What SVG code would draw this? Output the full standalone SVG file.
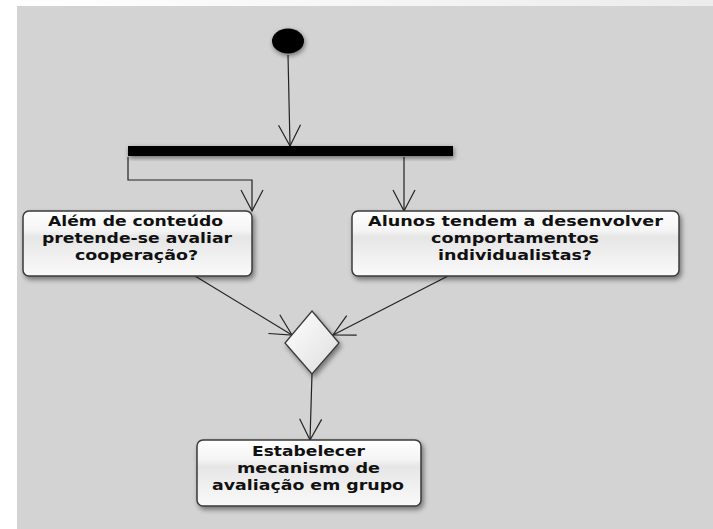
<svg xmlns="http://www.w3.org/2000/svg" width="713" height="529" viewBox="0 0 713 529">
<defs>
<linearGradient id="top" x1="0" y1="0" x2="1" y2="0"><stop offset="0" stop-color="#ffffff"/><stop offset="1" stop-color="#ececec"/></linearGradient>
<linearGradient id="box" x1="0" y1="0" x2="0" y2="1"><stop offset="0" stop-color="#ffffff"/><stop offset="0.3" stop-color="#f4f4f4"/><stop offset="0.4" stop-color="#e6e6e6"/><stop offset="1" stop-color="#fafafa"/></linearGradient>
<linearGradient id="dia" x1="0" y1="0" x2="1" y2="1"><stop offset="0" stop-color="#ffffff"/><stop offset="1" stop-color="#dedede"/></linearGradient>
<filter id="sh" x="-20%" y="-20%" width="140%" height="150%"><feDropShadow dx="2" dy="3" stdDeviation="2.5" flood-color="#000" flood-opacity="0.45"/></filter>
<filter id="glow" x="-50%" y="-50%" width="200%" height="200%"><feGaussianBlur in="SourceAlpha" stdDeviation="2.5" result="b"/><feOffset dx="1" dy="2" in="b" result="o"/><feComponentTransfer in="o" result="c"><feFuncA type="linear" slope="0.5"/></feComponentTransfer><feMerge><feMergeNode in="c"/><feMergeNode in="SourceGraphic"/></feMerge></filter>
<marker id="arr" markerUnits="userSpaceOnUse" viewBox="-22 -12 24 24" refX="0" refY="0" markerWidth="24" markerHeight="24" orient="auto"><path d="M-21,-11 L0,0 L-21,11" fill="none" stroke="#222" stroke-width="1.2"/></marker>
</defs>
<style>
.bg{fill:#d3d3d3}
.node{fill:url(#box);stroke:#3a3a3a;stroke-width:1.5;filter:url(#sh)}
.t{font-family:"DejaVu Sans",sans-serif;font-weight:bold;font-size:13.5px;fill:#111}
.c{fill:none;stroke:#222;stroke-width:1.2;marker-end:url(#arr)}
</style>
<rect x="0" y="0" width="713" height="529" fill="#ffffff"/>
<rect x="17" y="0" width="696" height="6" fill="url(#top)"/>
<rect class="bg" x="17" y="6" width="696" height="523"/>
<g id="connectors">
<path class="c" d="M288,55 L290,146"/>
<path class="c" d="M128,157 L128,180 L252,180 L252,211"/>
<path class="c" d="M404,157 L404,211"/>
<path class="c" d="M195,276 L292,335"/>
<path class="c" d="M448,276 L333,335"/>
<path class="c" d="M312,374 L310,440"/>
</g>
<g id="start"><ellipse cx="288" cy="41" rx="16" ry="12.5" fill="#000" filter="url(#glow)"/></g>
<g id="fork"><rect x="128" y="146" width="325" height="10" fill="#000" filter="url(#glow)"/></g>
<g id="n1">
<rect class="node" x="23" y="211" width="229" height="65" rx="6"/>
<text class="t" x="48" y="226" textLength="175" lengthAdjust="spacingAndGlyphs">Além de conteúdo</text>
<text class="t" x="42" y="243" textLength="190" lengthAdjust="spacingAndGlyphs">pretende-se avaliar</text>
<text class="t" x="75" y="260" textLength="123" lengthAdjust="spacingAndGlyphs">cooperação?</text>
</g>
<g id="n2">
<rect class="node" x="352" y="211" width="327" height="65" rx="6"/>
<text class="t" x="368" y="226" textLength="295" lengthAdjust="spacingAndGlyphs">Alunos tendem a desenvolver</text>
<text class="t" x="431" y="243" textLength="168" lengthAdjust="spacingAndGlyphs">comportamentos</text>
<text class="t" x="438" y="260" textLength="154" lengthAdjust="spacingAndGlyphs">individualistas?</text>
</g>
<g id="merge"><path d="M312,311 L339,343 L312,374 L285,343 Z" fill="url(#dia)" stroke="#3a3a3a" stroke-width="1.3" filter="url(#sh)"/></g>
<g id="n3">
<rect class="node" x="197" y="440" width="224" height="66" rx="6"/>
<text class="t" x="252" y="456" textLength="113" lengthAdjust="spacingAndGlyphs">Estabelecer</text>
<text class="t" x="237" y="473" textLength="143" lengthAdjust="spacingAndGlyphs">mecanismo de</text>
<text class="t" x="212" y="489.5" textLength="192" lengthAdjust="spacingAndGlyphs">avaliação em grupo</text>
</g>
</svg>
